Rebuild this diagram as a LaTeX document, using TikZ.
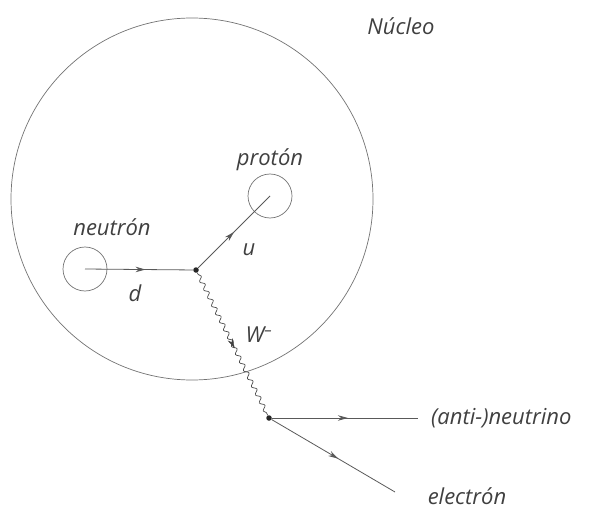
\documentclass[tikz,border=0pt]{standalone}
\usepackage{fontspec}
\setmainfont{Open Sans}
\usetikzlibrary{positioning,arrows.meta,decorations.pathmorphing,decorations.markings}

\begin{document}
\begin{tikzpicture}[
    x=1pt,y=-1pt,
    font=\fontsize{22}{26}\selectfont\itshape,
    line/.style={draw=black!65,line width=0.8pt},
    particle/.style={circle,draw=black!55,line width=0.7pt,minimum size=44pt,inner sep=0pt},
    vertex/.style={circle,fill=black!85,minimum size=5.5pt,inner sep=0pt},
    fermion/.style={line,postaction={decorate},
                    decoration={markings,mark=at position #1 with {\arrow{Stealth[length=10pt,width=5.5pt]}}}},
    boson/.style={draw=black!70,line width=0.7pt,decorate,
                  decoration={snake,amplitude=2pt,segment length=9pt,pre length=2pt,post length=2pt}},
    lbl/.style={text=black!75,inner sep=1pt}
]
  \useasboundingbox (0,0) rectangle (599,513);

  % nucleus
  \node[circle,draw=black!55,line width=0.7pt,minimum size=362pt,inner sep=0pt] (nucleus) at (192,199) {};
  \node[lbl] (nucleo) at (401,26) {Núcleo};

  % nucleons
  \node[particle] (neutron) at (85,269) {};
  \node[particle] (proton) at (270,196) {};
  \node[lbl,above=10pt of neutron,xshift=27pt] (nlabel) {neutrón};
  \node[lbl,above=2pt of proton] (plabel) {protón};

  % vertices
  \node[vertex] (v1) at (196,270) {};
  \node[vertex] (v2) at (269,418) {};
  \coordinate (nuend) at (418,418);
  \coordinate (eend) at (395,492);

  % quark lines
  \draw[fermion=0.56] (neutron.center) -- (v1);
  \draw[fermion=0.5] (v1) -- (proton.center);
  \node[lbl] (dlabel) at (135,293) {d};
  \node[lbl] (ulabel) at (249,250) {u};

  % W boson
  \draw[boson] (v1) -- (v2);
  \path[postaction={decorate},
        decoration={markings,mark=at position 0.53 with {\arrow[black!75]{Stealth[length=10pt,width=5.5pt]}}}] (v1) -- (v2);
  \node[lbl] (wlabel) at (259,335) {W\textsuperscript{–}};

  % leptons
  \draw[fermion=0.52] (v2) -- (nuend);
  \draw[fermion=0.54] (v2) -- (eend);
  \node[lbl,right=12pt of nuend] (nulabel) {(anti-)neutrino};
  \node[lbl] (elabel) at (467,496) {electrón};
\end{tikzpicture}
\end{document}
